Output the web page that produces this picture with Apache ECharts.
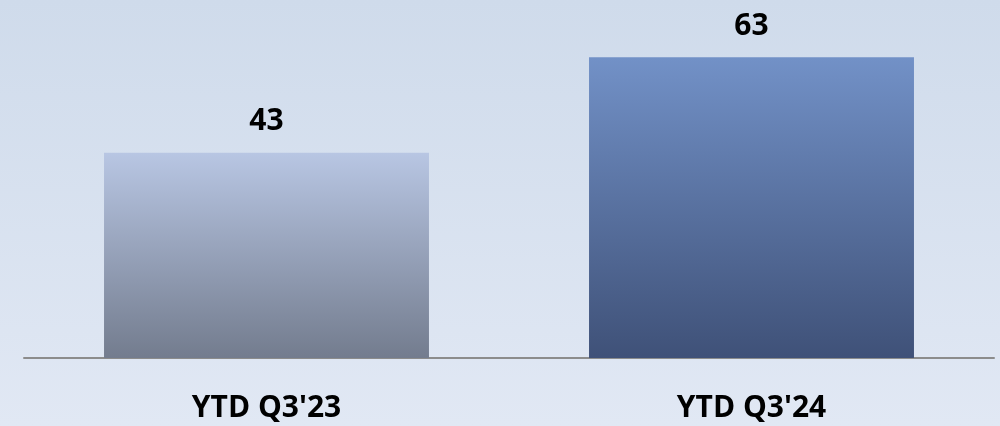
<!DOCTYPE html>
<html>
<head>
<meta charset="utf-8">
<script src="https://cdn.jsdelivr.net/npm/echarts@6/dist/echarts.min.js"></script>
<style>
  html, body { margin: 0; padding: 0; }
  #chart { width: 1000px; height: 426px; }
</style>
</head>
<body>
<div id="chart"></div>
<script>
// data
var categories = ["YTD Q3'23", "YTD Q3'24"];
var values = [43, 63];

// bar colours (top -> bottom)
var barColors = [
  ['#b8c6e3', '#737c8e'],
  ['#7291c7', '#3f5178']
];

var myChart = echarts.init(document.getElementById('chart'), null, { renderer: 'canvas' });

var option = {
  backgroundColor: new echarts.graphic.LinearGradient(0, 0, 0, 1, [
    { offset: 0, color: '#cfdbeb' },
    { offset: 1, color: '#e1e8f4' }
  ]),
  animation: false,
  grid: {
    left: 24,
    right: 6,
    top: 0,
    bottom: 68 // axis at y=358
  },
  xAxis: {
    type: 'category',
    data: categories,
    axisTick: { show: false },
    axisLine: {
      show: true,
      lineStyle: { color: '#8c8c8c', width: 2 }
    },
    axisLabel: {
      margin: 35,
      color: '#000',
      fontFamily: 'Open Sans',
      fontWeight: 'bold',
      fontSize: 30
    }
  },
  yAxis: {
    type: 'value',
    min: 0,
    max: 75,
    show: false,
    splitLine: { show: false }
  },
  series: [{
    type: 'bar',
    barWidth: '67%',
    data: values.map(function (v, i) {
      return {
        value: v,
        itemStyle: {
          color: new echarts.graphic.LinearGradient(0, 0, 0, 1, [
            { offset: 0, color: barColors[i][0] },
            { offset: 1, color: barColors[i][1] }
          ])
        }
      };
    }),
    label: {
      show: true,
      position: 'top',
      distance: 16,
      color: '#000',
      fontFamily: 'Open Sans',
      fontWeight: 'bold',
      fontSize: 30
    }
  }]
};

myChart.setOption(option, true);
</script>
</body>
</html>
